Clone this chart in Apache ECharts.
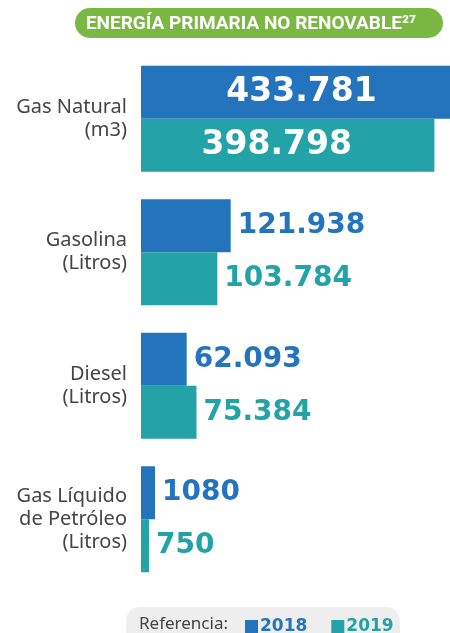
<!DOCTYPE html>
<html>
<head>
<meta charset="utf-8">
<script src="https://cdn.jsdelivr.net/npm/echarts@6/dist/echarts.min.js"></script>
<style>
  html, body { margin: 0; padding: 0; background: #ffffff; }
  #chart { width: 450px; height: 633px; }
</style>
</head>
<body>
<div id="chart"></div>
<script>
// datos
var categories = ['Gas Natural\n(m3)', 'Gasolina\n(Litros)', 'Diesel\n(Litros)', 'Gas Líquido\nde Petróleo\n(Litros)'];
var years = ['2018', '2019'];
var values2018 = [433781, 121938, 62093, 1080];
var values2019 = [398798, 103784, 75384, 750];

var colors = ['#2473bd', '#23a2a7'];
var FONT = '"Noto Sans", "Open Sans", sans-serif';
var NUMFONT = '"DejaVu Sans", sans-serif';

// 433.781 -> separador de miles con punto (4 cifras sin punto)
function fmt(v) {
  if (v < 10000) return String(v);
  return String(v).replace(/\B(?=(\d{3})+(?!\d))/g, '.');
}

function buildData(vals, color, dx) {
  return vals.map(function (v) {
    var big = v > 200000;
    return {
      value: v,
      label: big ? {
        position: 'inside',
        offset: [dx, 0],
        color: '#ffffff',
        fontSize: 33
      } : {
        position: 'right',
        distance: 7,
        color: color,
        fontSize: 28
      }
    };
  });
}

var chart = echarts.init(document.getElementById('chart'));
chart.setOption({
  backgroundColor: '#ffffff',
  animation: false,
  grid: {
    left: 141,
    top: 52,
    right: 0,
    height: 534
  },
  xAxis: {
    type: 'value',
    min: 0,
    max: 420000,
    show: false
  },
  yAxis: {
    type: 'category',
    inverse: true,
    data: categories,
    axisLine: { show: false },
    axisTick: { show: false },
    axisLabel: {
      margin: 14,
      color: '#444444',
      fontSize: 20,
      lineHeight: 23,
      fontFamily: FONT,
      align: 'right'
    }
  },
  legend: {
    left: 240,
    top: 613,
    itemWidth: 13,
    itemHeight: 13,
    itemGap: 24,
    icon: 'rect',
    selectedMode: false,
    data: [
      { name: '2018', textStyle: { color: colors[0] } },
      { name: '2019', textStyle: { color: colors[1] } }
    ],
    textStyle: {
      fontSize: 17,
      fontWeight: 'bold',
      fontFamily: NUMFONT,
      padding: [0, 0, 0, -3]
    }
  },
  graphic: [
    {
      type: 'rect',
      shape: { x: 75, y: 8, width: 368, height: 30, r: 15 },
      style: { fill: '#7bb843' },
      z: 1
    },
    {
      type: 'text',
      x: 251,
      y: 24,
      style: {
        text: 'ENERGÍA PRIMARIA NO RENOVABLE²⁷',
        fill: '#ffffff',
        font: 'bold 19px Roboto, sans-serif',
        align: 'center',
        verticalAlign: 'middle'
      },
      z: 2
    },
    {
      type: 'rect',
      shape: { x: 126, y: 607, width: 274, height: 40, r: 14 },
      style: { fill: '#eeeeee' },
      z: -1
    },
    {
      type: 'text',
      x: 139,
      y: 624,
      style: {
        text: 'Referencia:',
        fill: '#444444',
        font: '17px ' + FONT,
        verticalAlign: 'middle'
      }
    }
  ],
  series: [
    {
      name: years[0],
      type: 'bar',
      barWidth: 53,
      barGap: '0%',
      barMinHeight: 14,
      itemStyle: { color: colors[0] },
      label: {
        show: true,
        fontWeight: 'bold',
        fontFamily: NUMFONT,
        formatter: function (p) { return fmt(p.value); }
      },
      data: buildData(values2018, colors[0], 6)
    },
    {
      name: years[1],
      type: 'bar',
      barWidth: 53,
      barGap: '0%',
      barMinHeight: 8,
      itemStyle: { color: colors[1] },
      label: {
        show: true,
        fontWeight: 'bold',
        fontFamily: NUMFONT,
        formatter: function (p) { return fmt(p.value); }
      },
      data: buildData(values2019, colors[1], -11)
    }
  ]
});
</script>
</body>
</html>
